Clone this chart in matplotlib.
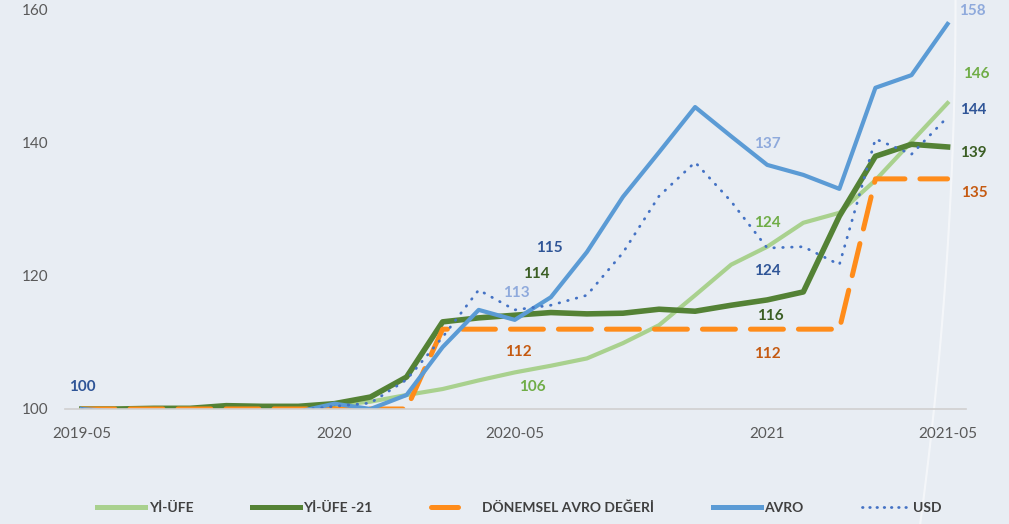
import matplotlib
matplotlib.use("Agg")
import matplotlib.pyplot as plt
from matplotlib.lines import Line2D
import numpy as np

plt.rcParams['font.family'] = ['Lato', 'DejaVu Sans']

# monthly index from 2019-05 to 2021-05
months = list(range(25))
tick_pos = [0, 7, 12, 19, 24]
tick_labels = ['2019-05', '2020', '2020-05', '2021', '2021-05']

yi_ufe = [100.0, 100.0, 100.0, 100.1, 100.2, 100.3, 100.4, 100.6, 101.1, 102.1,
          103.0, 104.3, 105.5, 106.5, 107.6, 109.9, 112.6, 117.1, 121.7, 124.4,
          128.0, 129.5, 134.4, 140.2, 146.0]
yi_ufe_21 = [100.0, 100.0, 100.1, 100.1, 100.5, 100.4, 100.4, 100.8, 101.8, 104.8,
             113.1, 113.7, 114.1, 114.5, 114.3, 114.4, 115.0, 114.7, 115.6, 116.4,
             117.6, 129.0, 138.0, 139.8, 139.4]
donemsel = [100.0, 100.0, 100.0, 100.0, 100.0, 100.0, 100.0, 100.0, 100.0, 100.0,
            112.0, 112.0, 112.0, 112.0, 112.0, 112.0, 112.0, 112.0, 112.0, 112.0,
            112.0, 112.0, 134.6, 134.6, 134.6]
avro = [100.0, 99.6, 99.3, 99.2, 99.5, 99.4, 99.6, 100.8, 100.0, 102.1,
        109.3, 114.9, 113.4, 116.8, 123.6, 131.9, 138.6, 145.4, 141.0, 136.7,
        135.2, 133.1, 148.3, 150.2, 157.9]
usd = [100.0, 99.7, 99.5, 99.6, 99.8, 99.7, 99.8, 100.4, 100.9, 104.4,
       110.8, 117.9, 114.9, 115.6, 117.1, 123.5, 132.0, 137.1, 131.2, 124.2,
       124.4, 121.7, 140.6, 138.3, 143.9]

labels = ['Yİ-ÜFE', 'Yİ-ÜFE -21', 'DÖNEMSEL AVRO DEĞERİ', 'AVRO', 'USD']

# (x, y, text, colour) data labels as shown on the chart
point_labels = [
    (0, 103.3, '100', '#2f5597'),
    (12.95, 124.2, '115', '#2f5597'),
    (12.6, 120.3, '114', '#3b5e24'),
    (12.05, 117.4, '113', '#8faadc'),
    (12.1, 108.6, '112', '#c55a11'),
    (12.5, 103.3, '106', '#70ad47'),
    (19.0, 139.8, '137', '#8faadc'),
    (19.0, 128.0, '124', '#70ad47'),
    (19.0, 120.8, '124', '#2f5597'),
    (19.1, 114.0, '116', '#3b5e24'),
    (19.0, 108.3, '112', '#c55a11'),
    (24.7, 159.9, '158', '#8faadc'),
    (24.8, 150.3, '146', '#70ad47'),
    (24.7, 144.9, '144', '#2f5597'),
    (24.7, 138.5, '139', '#3b5e24'),
    (24.75, 132.5, '135', '#c55a11'),
]

fig = plt.figure(figsize=(10.09, 5.24), dpi=100)
fig.patch.set_facecolor('#e8edf3')

# faint white arc at the right of the background
t = np.linspace(0, 1, 60)
fig.add_artist(Line2D(0.947 - 0.035 * t ** 2, 1 - t, transform=fig.transFigure,
                      color='white', lw=1.5, alpha=0.55, zorder=0))

ax = fig.add_axes([0.0644, 0.2195, 0.8926, 0.7615])
ax.set_facecolor('none')

ax.plot(months, yi_ufe, color='#a9d18e', lw=3.0, solid_joinstyle='round')
ax.plot(months, yi_ufe_21, color='#548235', lw=4.0, solid_joinstyle='round')
ax.plot(months, donemsel, color='#ff8c1a', lw=3.6,
        dashes=(6.6, 3.0), dash_capstyle='round')
ax.plot(months, avro, color='#5b9bd5', lw=3.0, solid_joinstyle='round')
ax.plot(months, usd, color='#4472c4', lw=2.0,
        dashes=(0.2, 3.0), dash_capstyle='round')

for x, y, txt, c in point_labels:
    ax.text(x, y, txt, color=c, fontsize=11, fontweight='bold',
            ha='center', va='center', clip_on=False)

ax.set_xlim(-0.47, 24.5)
ax.set_ylim(100, 160)
ax.set_yticks([100, 120, 140, 160])
ax.set_xticks(tick_pos)
ax.set_xticklabels(tick_labels)
ax.tick_params(axis='both', length=0, labelsize=11, colors='#595959')
ax.tick_params(axis='y', pad=12)
ax.tick_params(axis='x', pad=13)
for side in ['top', 'right', 'left']:
    ax.spines[side].set_visible(False)
ax.spines['bottom'].set_color('#d0d0d0')
ax.spines['bottom'].set_linewidth(1.2)

handles = [
    Line2D([], [], color='#a9d18e', lw=3.6),
    Line2D([], [], color='#548235', lw=3.6),
    Line2D([], [], color='#ff8c1a', lw=3.6, linestyle=(0, (5.4, 12)),
           dash_capstyle='round'),
    Line2D([], [], color='#5b9bd5', lw=3.6),
    Line2D([], [], color='#4472c4', lw=2.0, dashes=(0.2, 2.4), dash_capstyle='round'),
]
leg = fig.legend(handles, labels, loc='center', bbox_to_anchor=(0.515, 0.031), ncol=5,
                 frameon=False, fontsize=10, handlelength=3.46, columnspacing=4.2,
                 handletextpad=0.25)
for text in leg.get_texts():
    text.set_color('#404040')
    text.set_fontweight('bold')

fig.savefig('out.png', dpi=100, facecolor=fig.get_facecolor())
